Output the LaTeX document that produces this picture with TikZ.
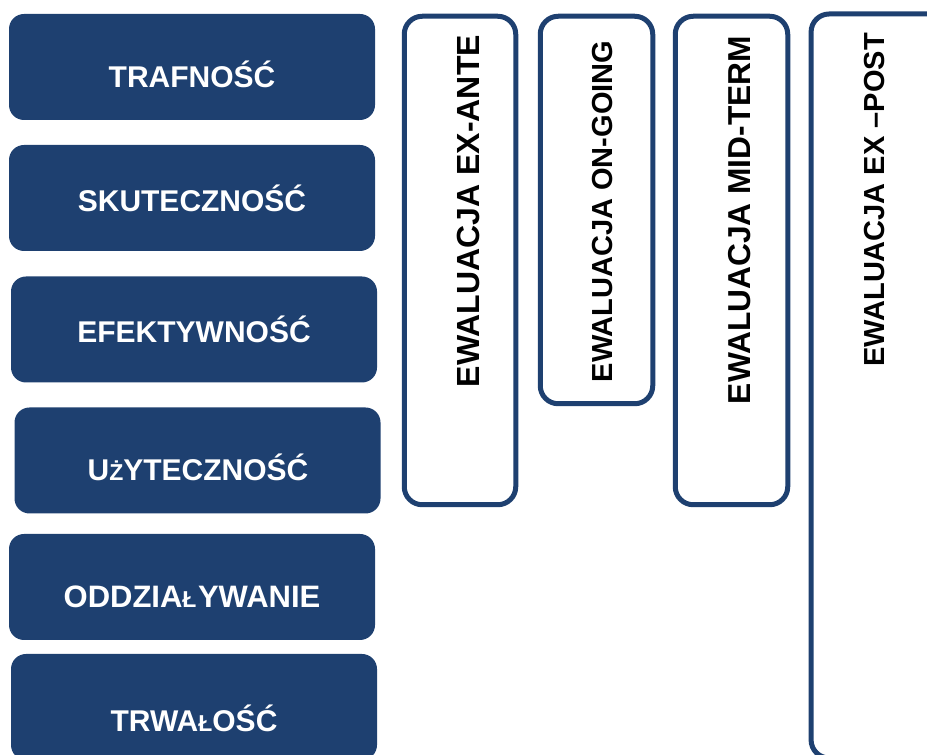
\documentclass[tikz,border=0pt]{standalone}
\usepackage{fontspec}
\setmainfont{Liberation Sans}
\definecolor{navy}{RGB}{30,64,112}
\tikzset{
  critbox/.style={fill=navy, draw=none, rounded corners=15pt, minimum width=366pt, minimum height=106pt, inner sep=0pt},
  crittext/.style={text=white, font=\fontsize{30}{30}\selectfont\bfseries, anchor=base, inner sep=0pt},
  evalbox/.style={draw=navy, line width=5pt, fill=white, rounded corners=18pt, inner sep=0pt},
  evaltext/.style={text=black, rotate=90, inner sep=0pt}
}
\newcommand{\smallL}{{\fontsize{23}{23}\selectfont Ł}}
\newcommand{\smallZ}{{\fontsize{23}{23}\selectfont Ż}}
\begin{document}
\begin{tikzpicture}[x=1pt,y=1pt]
\useasboundingbox (0,0) rectangle (927,755);
\clip (0,0) rectangle (927,755);
% left column
\node[critbox] (b1) at (192,688) {};
\node[critbox] (b2) at (192,557) {};
\node[critbox] (b3) at (194,425.5) {};
\node[critbox] (b4) at (197.5,294.5) {};
\node[critbox] (b5) at (192,168) {};
\node[critbox] (b6) at (194,48) {};
\node[crittext] (t1) at (192,667) {TRAFNOŚĆ};
\node[crittext] (t2) at (192,543) {SKUTECZNOŚĆ};
\node[crittext] (t3) at (194,412) {EFEKTYWNOŚĆ};
\node[crittext] (t4) at (198,274) {U\smallZ YTECZNOŚĆ};
\node[crittext, font=\fontsize{31}{31}\selectfont\bfseries] (t5) at (192,147) {ODDZIA\smallL\kern1.5pt YWANIE};
\node[crittext] (t6) at (194,23) {TRWA\smallL OŚĆ};
% right columns
\node[evalbox, minimum width=111.5pt, minimum height=488.5pt] (e1) at (460,494.5) {};
\node[evalbox, minimum width=112.5pt, minimum height=387.5pt] (e2) at (596.5,545) {};
\node[evalbox, minimum width=112.5pt, minimum height=488.5pt] (e3) at (731.5,494.5) {};
\node[evalbox, minimum width=139pt, minimum height=744pt] (e4) at (880.6,369) {};
\node[evaltext, font=\fontsize{32}{32}\selectfont\bfseries] (l1) at (468,544) {EWALUACJA EX-ANTE};
\node[evaltext, font=\fontsize{29}{29}\selectfont\bfseries] (l2) at (603,543.5) {EWALUACJA ON-GOING};
\node[evaltext, font=\fontsize{31.7}{31.7}\selectfont\bfseries] (l3) at (740,535) {EWALUACJA MID-TERM};
\node[evaltext, font=\fontsize{29}{29}\selectfont\bfseries] (l4) at (875,555) {EWALUACJA EX –POST};
\end{tikzpicture}
\end{document}
